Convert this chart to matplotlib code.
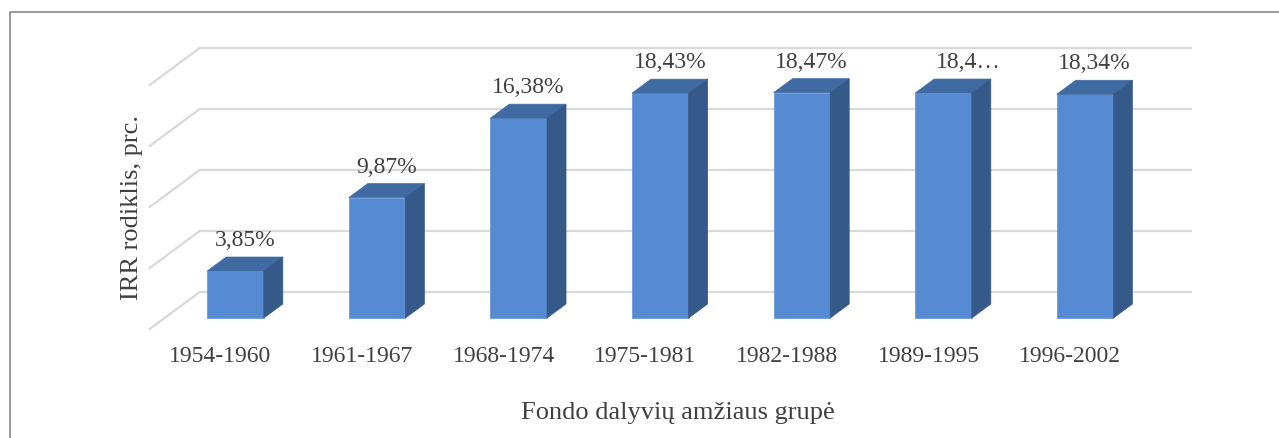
import matplotlib.pyplot as plt
from matplotlib.patches import Polygon
import numpy as np

categories = ["1954-1960", "1961-1967", "1968-1974", "1975-1981",
              "1982-1988", "1989-1995", "1996-2002"]
irr = [3.85, 9.87, 16.38, 18.43, 18.47, 18.44, 18.34]
value_labels = ["3,85%", "9,87%", "16,38%", "18,43%", "18,47%", "18,4…", "18,34%"]
grid_values = [0, 5, 10, 15, 20]

# layout (pixels of a 1279x438 canvas)
W, H = 1279, 438
x0_px, step_px = 235.5, 141.6     # centre of first bar front, category spacing
base_px, unit_px = 318, 12.2      # bar bottom, pixels per percent

front_col = "#568bd4"
top_col = "#3f6aa2"
side_col = "#355a89"
grid_col = "#d9d9d9"
text_col = "#404040"
serif = "Liberation Serif"

def dx(px):
    return px / step_px

def dy(px):
    return px / unit_px

fig = plt.figure(figsize=(W / 100, H / 100), dpi=100)
ax = fig.add_axes([0, 0, 1, 1])
ax.set_xlim(-x0_px / step_px, (W - x0_px) / step_px)
ax.set_ylim((base_px - H) / unit_px, base_px / unit_px)
ax.axis("off")

# depth offsets
bar_w = 0.40
bdx, bdy = dx(19), dy(14)        # bar depth
wdx, wdy = dx(35), dy(26)        # back wall relative to bar front
fdx, fdy = dx(-15), dy(-11)      # front edge of floor

# gridlines on back wall and left side wall
for g in grid_values:
    ax.plot([-0.5 + wdx, 6.5 + wdx], [g + wdy, g + wdy], color=grid_col, lw=1.6, zorder=1)
    ax.plot([-0.5 + fdx, -0.5 + wdx], [g + fdy, g + wdy], color=grid_col, lw=1.6, zorder=1)

x = np.arange(len(categories))
ax.bar(x, irr, width=bar_w, color=front_col, edgecolor="#6a9ad9", lw=0.6, zorder=3)
for xi, v in zip(x, irr):
    l, r = xi - bar_w / 2, xi + bar_w / 2
    top = Polygon([(l, v), (r, v), (r + bdx, v + bdy), (l + bdx, v + bdy)],
                  closed=True, facecolor=top_col, edgecolor=top_col, lw=0.5, zorder=3)
    side = Polygon([(r, 0), (r + bdx, bdy), (r + bdx, v + bdy), (r, v)],
                   closed=True, facecolor=side_col, edgecolor=side_col, lw=0.5, zorder=3)
    ax.add_patch(top)
    ax.add_patch(side)

for xi, v, lab in zip(x, irr, value_labels):
    # the truncated label sits a little to the right in the original
    shift = dx(15) if lab.endswith("…") else 0
    ax.text(xi + bdx / 2 + shift, v + bdy + dy(11), lab, ha="center", va="baseline",
            fontsize=17, family=serif, color=text_col, zorder=4)

for xi, cat in zip(x, categories):
    ax.text(xi + fdx, dy(-39), cat, ha="center", va="center",
            fontsize=17, family=serif, color=text_col)

ax.text(dx(678 - x0_px), dy(base_px - 413), "Fondo dalyvių amžiaus grupė",
        ha="center", va="center", fontsize=19, family=serif, color=text_col)
ax.text(dx(132 - x0_px), dy(base_px - 207), "IRR rodiklis, prc.", rotation=90,
        ha="center", va="center", fontsize=19, family=serif, color=text_col)

# chart area border (left and top visible)
ax.plot([dx(10 - x0_px), dx(10 - x0_px), dx(W - x0_px)],
        [dy(base_px - H), dy(base_px - 12), dy(base_px - 12)],
        color="#888888", lw=1.2, clip_on=False)

fig.savefig("out.png", dpi=100)
